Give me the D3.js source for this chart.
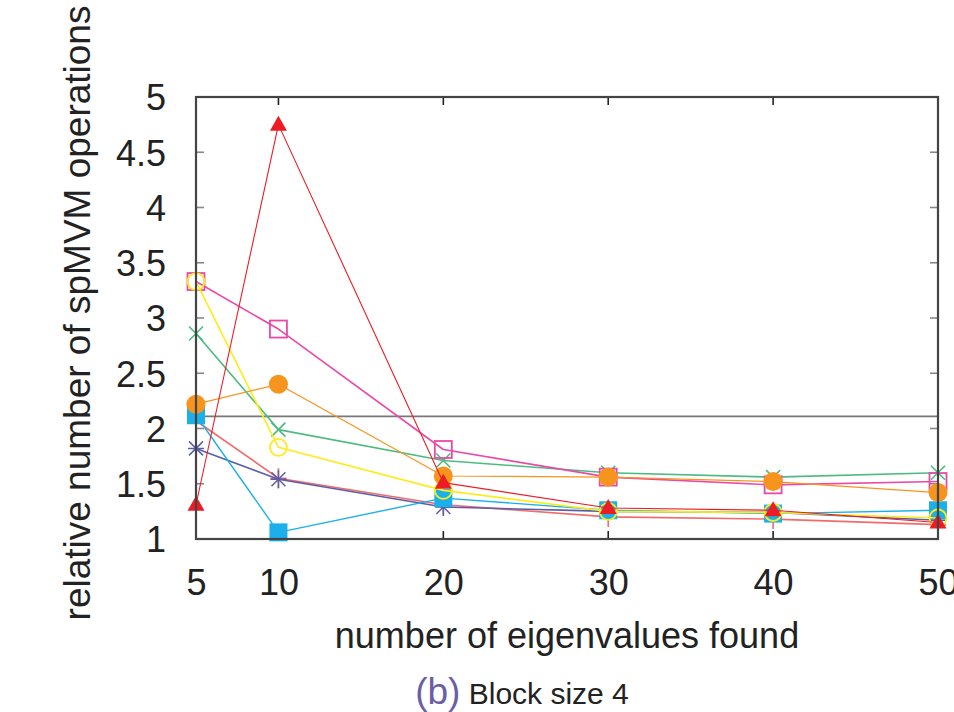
<!DOCTYPE html>
<html>
<head>
<meta charset="utf-8">
<script src="https://cdn.jsdelivr.net/npm/d3@7/dist/d3.min.js"></script>
<style>
  html, body { margin: 0; padding: 0; background: #fff; overflow: hidden; }
  svg text { font-family: "Liberation Sans", Arial, sans-serif; }
</style>
</head>
<body>
<svg id="chart" width="954" height="712"></svg>
<script>
// ---- data ----
const xValues = [5, 10, 20, 30, 40, 50];
const xTicks = [5, 10, 20, 30, 40, 50];
const yTicks = [1, 1.5, 2, 2.5, 3, 3.5, 4, 4.5, 5];
const refLine = 2.11;

const seriesPlus     = [2.07, 1.55, 1.31, 1.20, 1.18, 1.13];
const seriesCross    = [2.86, 1.99, 1.71, 1.60, 1.56, 1.60];
const seriesStar     = [1.82, 1.54, 1.29, 1.25, 1.24, 1.17];
const seriesOpenSq   = [3.33, 2.90, 1.81, 1.56, 1.49, 1.52];
const seriesFillSq   = [2.12, 1.06, 1.37, 1.26, 1.23, 1.26];
const seriesOpenCirc = [3.33, 1.83, 1.44, 1.25, 1.24, 1.19];
const seriesFillCirc = [2.22, 2.40, 1.57, 1.56, 1.52, 1.42];
const seriesTri      = [1.31, 4.75, 1.51, 1.28, 1.26, 1.15];

const series = [
  { values: seriesPlus,     marker: "plus",     color: "#f26b6b", lw: 1.6 },
  { values: seriesCross,    marker: "cross",    color: "#4dbb80", lw: 1.6 },
  { values: seriesStar,     marker: "star",     color: "#5b5ea6", lw: 1.6 },
  { values: seriesOpenSq,   marker: "opensq",   color: "#e94aa8", lw: 1.6 },
  { values: seriesFillSq,   marker: "fillsq",   color: "#1bb0ea", lw: 1.4 },
  { values: seriesOpenCirc, marker: "opencirc", color: "#fcec1c", lw: 1.6 },
  { values: seriesFillCirc, marker: "fillcirc", color: "#f7941d", lw: 1.2 },
  { values: seriesTri,      marker: "tri",      color: "#ed1c24", lw: 1.1 }
];

// ---- layout ----
const svg = d3.select("#chart");
const L = 196, R = 938, T = 97, B = 539;
const x = d3.scaleLinear().domain([5, 50]).range([L, R]);
const y = d3.scaleLinear().domain([1, 5]).range([B, T]);

// reference line
svg.append("line")
  .attr("x1", x(5)).attr("x2", x(50))
  .attr("y1", y(refLine)).attr("y2", y(refLine))
  .attr("stroke", "#777").attr("stroke-width", 1.6);

// ticks (inside, mirrored)
const tickLen = 8;
const gTicks = svg.append("g").attr("stroke-width", 1.6);
yTicks.forEach(v => {
  gTicks.append("line").attr("x1", L).attr("x2", L + tickLen).attr("y1", y(v)).attr("y2", y(v)).attr("stroke", "#888");
  gTicks.append("line").attr("x1", R).attr("x2", R - tickLen).attr("y1", y(v)).attr("y2", y(v)).attr("stroke", "#888");
});
xTicks.forEach(v => {
  gTicks.append("line").attr("x1", x(v)).attr("x2", x(v)).attr("y1", B).attr("y2", B - tickLen).attr("stroke", "#222");
  gTicks.append("line").attr("x1", x(v)).attr("x2", x(v)).attr("y1", T).attr("y2", T + tickLen).attr("stroke", "#222");
});

// y axis labels
const yAxis = d3.axisLeft(y).tickValues(yTicks).tickSize(0).tickPadding(0)
  .tickFormat(d => String(d));
const gy = svg.append("g").attr("transform", `translate(${166},0)`).call(yAxis);
gy.select(".domain").remove();
gy.selectAll("text").attr("font-size", 36).attr("fill", "#222")
  .attr("font-family", "Liberation Sans, Arial, sans-serif").attr("dy", "0.36em");

// x axis labels
const xAxis = d3.axisBottom(x).tickValues(xTicks).tickSize(0).tickPadding(0)
  .tickFormat(d => String(d));
const gx = svg.append("g").attr("transform", `translate(0,${B})`).call(xAxis);
gx.select(".domain").remove();
gx.selectAll("text").attr("font-size", 36).attr("fill", "#222")
  .attr("font-family", "Liberation Sans, Arial, sans-serif").attr("y", 56).attr("dy", 0);

// series lines
const lineGen = d3.line().x((d, i) => x(xValues[i])).y(d => y(d));

function drawMarker(g, type, cx, cy, color) {
  switch (type) {
    case "plus":
      g.append("path").attr("d", `M${cx - 8},${cy}H${cx + 8}M${cx},${cy - 10}V${cy + 10}`)
        .attr("stroke", color).attr("stroke-width", 1.6).attr("fill", "none");
      break;
    case "cross":
      g.append("path").attr("d", `M${cx - 7},${cy - 7}L${cx + 7},${cy + 7}M${cx - 7},${cy + 7}L${cx + 7},${cy - 7}`)
        .attr("stroke", color).attr("stroke-width", 1.6).attr("fill", "none");
      break;
    case "star":
      g.append("path").attr("d",
        `M${cx - 7},${cy - 7}L${cx + 7},${cy + 7}M${cx - 7},${cy + 7}L${cx + 7},${cy - 7}M${cx},${cy - 9}V${cy + 9}M${cx - 8},${cy}H${cx + 8}`)
        .attr("stroke", color).attr("stroke-width", 1.5).attr("fill", "none");
      break;
    case "opensq":
      g.append("rect").attr("x", cx - 8.5).attr("y", cy - 8.5).attr("width", 17).attr("height", 17)
        .attr("fill", "none").attr("stroke", color).attr("stroke-width", 1.8);
      break;
    case "fillsq":
      g.append("rect").attr("x", cx - 9).attr("y", cy - 9).attr("width", 18).attr("height", 18)
        .attr("fill", color);
      break;
    case "opencirc":
      g.append("circle").attr("cx", cx).attr("cy", cy).attr("r", 8.5)
        .attr("fill", "none").attr("stroke", color).attr("stroke-width", 1.8);
      break;
    case "fillcirc":
      g.append("circle").attr("cx", cx).attr("cy", cy).attr("r", 9.5).attr("fill", color);
      break;
    case "tri":
      g.append("path").attr("d", `M${cx},${cy - 9}L${cx + 8.5},${cy + 6}L${cx - 8.5},${cy + 6}Z`)
        .attr("fill", color);
      break;
  }
}

series.forEach(s => {
  const g = svg.append("g");
  g.append("path").datum(s.values).attr("d", lineGen)
    .attr("fill", "none").attr("stroke", s.color).attr("stroke-width", s.lw)
    .attr("stroke-linejoin", "round");
  s.values.forEach((v, i) => drawMarker(g, s.marker, x(xValues[i]), y(v), s.color));
});

// frame
svg.append("rect").attr("x", L).attr("y", T).attr("width", R - L).attr("height", B - T)
  .attr("fill", "none").attr("stroke", "#444").attr("stroke-width", 2.2);

// axis titles
svg.append("text").attr("x", 567).attr("y", 648).attr("text-anchor", "middle")
  .attr("font-size", 36).attr("fill", "#222").text("number of eigenvalues found");
svg.append("text").attr("transform", "translate(90,313) rotate(-90)").attr("text-anchor", "middle")
  .attr("font-size", 37).attr("fill", "#222").text("relative number of spMVM operations");

// caption
const cap = svg.append("text").attr("x", 522).attr("y", 704).attr("text-anchor", "middle")
  .attr("font-size", 30).attr("fill", "#222");
cap.append("tspan").attr("fill", "#6a5fa5").attr("font-size", 37).text("(b)");
cap.append("tspan").text(" Block size 4");
</script>
</body>
</html>
